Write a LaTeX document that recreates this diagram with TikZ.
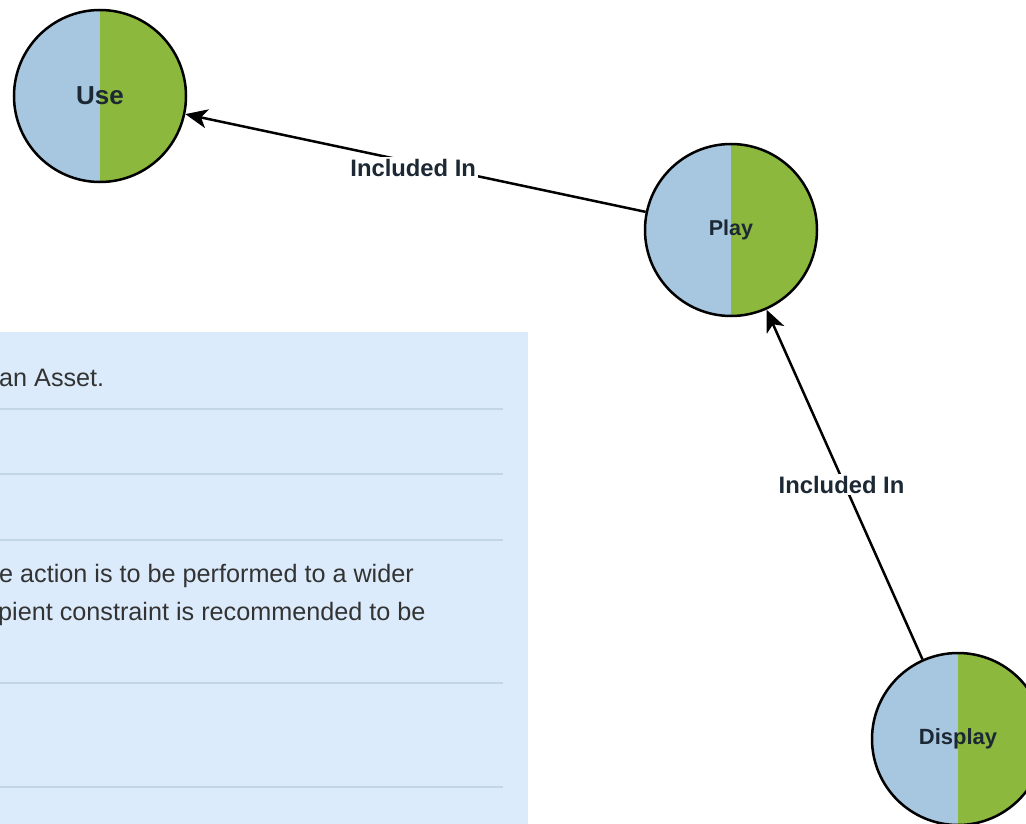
\documentclass[tikz,border=0pt]{standalone}
\usepackage{fontspec}
\setmainfont{Liberation Sans}
\usetikzlibrary{arrows.meta}
\definecolor{lblue}{HTML}{A7C6E0}
\definecolor{lgreen}{HTML}{8CB83E}
\definecolor{panel}{HTML}{DBEBFB}
\definecolor{rule}{HTML}{C3D6E6}
\definecolor{txt}{HTML}{333333}
\definecolor{ntxt}{HTML}{1C2833}
\tikzset{
  halfcircle/.style={circle, minimum size=172pt, inner sep=0pt, draw=black, line width=2.5pt,
    text=ntxt,
    path picture={
      \fill[lblue] (path picture bounding box.south west) rectangle (path picture bounding box.north);
      \fill[lgreen] (path picture bounding box.south) rectangle (path picture bounding box.north east);
    }},
  rel/.style={draw=black, line width=2.5pt, -{Stealth[length=22pt,width=19pt,inset=6pt]}},
  rellabel/.style={fill=white, inner sep=2pt, font=\fontsize{23.8}{26}\selectfont\bfseries, text=ntxt},
  paneltext/.style={anchor=base west, inner sep=0pt, text=txt, font=\fontsize{25.2}{28}\selectfont},
  panelrule/.style={draw=rule, line width=1.2pt}
}
\begin{document}
\begin{tikzpicture}[x=1pt,y=-1pt]
\useasboundingbox (0,0) rectangle (1026,824);
\fill[white] (0,0) rectangle (1026,824);
% panel
\fill[panel] (-5,332) rectangle (528,830);
\foreach \yy in {409,474,540,683,787} \draw[panelrule] (-5,\yy) -- (503,\yy);
\node[paneltext] (t1) at (-1,386) {an Asset.};
\node[paneltext] (t2) at (-1,582) {e action is to be performed to a wider};
\node[paneltext] (t3) at (-2,620) {pient constraint is recommended to be};
% nodes
\node[halfcircle, font=\fontsize{26}{30}\selectfont\bfseries] (use) at (100,96) {Use};
\node[halfcircle, font=\fontsize{21.5}{25}\selectfont\bfseries] (play) at (731,230) {Play};
\node[halfcircle, font=\fontsize{22}{26}\selectfont\bfseries] (display) at (958,739) {Display};
% edges
\draw[rel] (play) -- node[rellabel, pos=0.505, yshift=-5pt] {Included In} (use);
\draw[rel] (display) -- node[rellabel, pos=0.5, xshift=-3pt] {Included In} (play);
\end{tikzpicture}
\end{document}
